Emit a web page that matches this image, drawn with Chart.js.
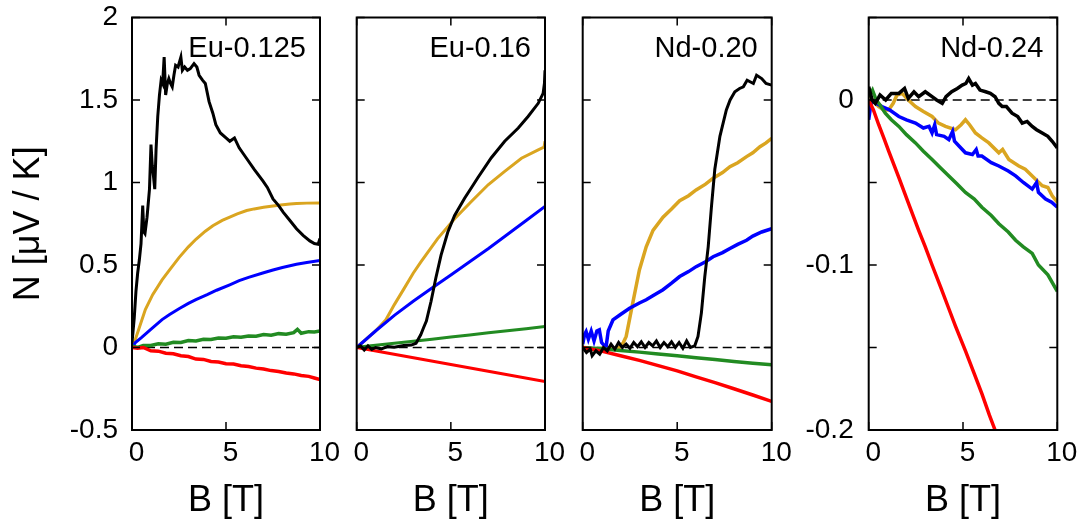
<!DOCTYPE html>
<html><head><meta charset="utf-8">
<script src="https://cdn.jsdelivr.net/npm/chart.js@4.4.1/dist/chart.umd.min.js"></script>
<style>
html,body{margin:0;padding:0;background:#fff;width:1082px;height:531px;overflow:hidden;position:relative}
canvas{position:absolute;top:0}
</style></head><body>
<canvas id="c1" width="345" height="531" style="left:0px"></canvas>
<canvas id="c2" width="225" height="531" style="left:345px"></canvas>
<canvas id="c3" width="225" height="531" style="left:570px"></canvas>
<canvas id="c4" width="287" height="531" style="left:795px"></canvas>
<script>
// ---------- data (B [T], N [µV/K]) ----------
const panelLabels = ['Eu-0.125', 'Eu-0.16', 'Nd-0.20', 'Nd-0.24'];
const xTitle = 'B [T]';
const yTitle = 'N [μV / K]';
const xTicks = [0, 5, 10];
const xTickLabels = ['0', '5', '10'];
const yTicksEu = [-0.5, 0, 0.5, 1, 1.5, 2];
const yTickLabelsEu = ['-0.5', '0', '0.5', '1', '1.5', '2'];
const yTicksNd24 = [-0.2, -0.15, -0.1, -0.05, 0, 0.05];
const yTickLabelsNd24 = ['-0.2', '', '-0.1', '', '0', ''];
const zeroLine = [[0, 0], [10, 0]];

// Eu-0.125
const eu125Black = [[0,0.03],[0.12,0.18],[0.21,0.34],[0.3,0.45],[0.39,0.53],[0.48,0.63],[0.57,0.86],[0.63,0.7],[0.69,0.69],[0.8,0.79],[0.93,0.96],[1.01,1.23],[1.08,1.1],[1.14,1.04],[1.21,0.96],[1.28,1.2],[1.37,1.4],[1.46,1.53],[1.55,1.62],[1.63,1.6],[1.71,1.76],[1.79,1.53],[1.88,1.6],[1.96,1.63],[2.05,1.6],[2.14,1.58],[2.23,1.65],[2.32,1.71],[2.45,1.7],[2.6,1.76],[2.68,1.68],[2.8,1.7],[2.95,1.68],[3.1,1.69],[3.3,1.72],[3.45,1.7],[3.57,1.65],[3.75,1.62],[3.9,1.6],[4.1,1.49],[4.3,1.42],[4.46,1.35],[4.7,1.3],[5.0,1.27],[5.2,1.25],[5.45,1.27],[5.7,1.21],[6.07,1.15],[6.5,1.08],[6.96,1.01],[7.2,0.97],[7.5,0.9],[7.8,0.86],[8.04,0.82],[8.4,0.77],[8.75,0.72],[9.1,0.68],[9.46,0.646],[9.7,0.63],[9.9,0.626],[10,0.66]];
const eu125Gold = [[0,0],[0.18,0.05],[0.36,0.11],[0.71,0.23],[1.1,0.32],[1.6,0.41],[2.0,0.47],[2.5,0.545],[3.0,0.61],[3.4,0.656],[3.9,0.705],[4.3,0.738],[4.8,0.77],[5.2,0.79],[5.6,0.81],[6.1,0.83],[6.5,0.84],[7.0,0.85],[7.5,0.858],[7.9,0.864],[8.4,0.869],[8.75,0.872],[9.3,0.875],[10,0.876]];
const eu125Blue = [[0,0],[0.18,0.03],[0.5,0.06],[1.0,0.11],[1.6,0.169],[2.0,0.2],[2.5,0.235],[3.0,0.267],[3.4,0.29],[4.0,0.32],[4.5,0.347],[5.2,0.38],[5.7,0.405],[6.2,0.425],[7.0,0.453],[7.5,0.47],[8.0,0.485],[8.75,0.504],[9.3,0.515],[10,0.528]];
const eu125Green = [[0,0.01],[0.3,0.0],[0.6,0.012],[1.0,0.012],[1.4,0.022],[1.8,0.02],[2.2,0.032],[2.6,0.03],[3.0,0.042],[3.4,0.04],[3.8,0.05],[4.2,0.048],[4.6,0.058],[5.0,0.056],[5.4,0.065],[5.8,0.062],[6.2,0.07],[6.6,0.068],[7.0,0.078],[7.4,0.074],[7.8,0.084],[8.2,0.08],[8.6,0.09],[8.8,0.11],[9.0,0.086],[9.4,0.096],[9.7,0.094],[10,0.1]];
const eu125Red = [[0,0],[0.3,-0.005],[0.6,0.0],[1.0,-0.02],[1.4,-0.022],[1.8,-0.035],[2.2,-0.038],[2.6,-0.05],[3.0,-0.055],[3.4,-0.07],[3.8,-0.072],[4.2,-0.085],[4.6,-0.088],[5.0,-0.098],[5.4,-0.1],[5.8,-0.11],[6.2,-0.115],[6.6,-0.125],[7.0,-0.13],[7.4,-0.14],[7.8,-0.145],[8.2,-0.155],[8.6,-0.16],[9.0,-0.17],[9.4,-0.175],[9.7,-0.185],[10,-0.195]];

// Eu-0.16
const eu16Black = [[0,0],[0.2,0.01],[0.4,-0.015],[0.6,0.01],[0.8,-0.012],[1.0,0.0],[1.3,-0.008],[1.64,0.006],[2.0,0.002],[2.5,0.012],[2.9,0.015],[3.15,0.026],[3.4,0.077],[3.55,0.12],[3.7,0.16],[3.95,0.28],[4.2,0.42],[4.48,0.56],[4.84,0.7],[5.2,0.8],[5.73,0.905],[6.1,0.97],[6.44,1.03],[7.15,1.15],[7.86,1.25],[8.58,1.33],[9.1,1.4],[9.64,1.48],[9.9,1.54],[9.97,1.6],[10,1.68]];
const eu16Gold = [[0,0],[0.5,0.05],[1.0,0.1],[1.55,0.168],[2.0,0.26],[2.53,0.36],[3.0,0.45],[3.42,0.52],[4.3,0.66],[5.2,0.78],[6.09,0.885],[6.98,0.986],[7.86,1.067],[8.75,1.147],[9.64,1.198],[9.95,1.215],[10,1.25]];
const eu16Blue = [[0,0],[1,0.1],[2,0.195],[3,0.28],[4,0.36],[5,0.44],[6,0.52],[7,0.6],[8,0.685],[9,0.77],[10,0.855]];
const eu16Green = [[0,0],[0.5,0.008],[1,0.014],[2,0.026],[3,0.038],[4,0.05],[5,0.063],[6,0.076],[7,0.089],[8,0.101],[9,0.114],[10,0.127]];
const eu16Red = [[0,0],[2.5,-0.052],[5,-0.103],[7.5,-0.155],[10,-0.206]];

// Nd-0.20
const nd20Black = [[0,0.0],[0.2,-0.03],[0.4,-0.01],[0.5,-0.05],[0.7,-0.02],[0.9,-0.04],[1.1,0.0],[1.3,-0.02],[1.5,0.02],[1.7,-0.01],[1.9,0.03],[2.1,0.0],[2.3,0.02],[2.5,-0.005],[2.7,0.03],[2.9,0.005],[3.1,0.035],[3.3,0.0],[3.5,0.03],[3.7,0.01],[3.9,0.04],[4.1,0.0],[4.3,0.03],[4.5,0.005],[4.7,0.035],[4.9,0.0],[5.1,0.03],[5.3,-0.005],[5.5,0.04],[5.7,0.0],[5.93,0.01],[6.1,0.067],[6.28,0.21],[6.46,0.43],[6.64,0.61],[6.81,0.85],[6.99,1.08],[7.26,1.28],[7.6,1.44],[7.8,1.5],[8.05,1.55],[8.3,1.57],[8.5,1.58],[8.7,1.62],[9.03,1.6],[9.2,1.65],[9.47,1.63],[9.7,1.6],[10,1.59]];
const nd20Gold = [[0,0],[0.4,-0.01],[0.7,-0.014],[1.2,0.0],[1.6,-0.01],[1.95,0.0],[2.15,0.03],[2.3,0.067],[2.65,0.27],[3.0,0.47],[3.36,0.61],[3.72,0.71],[4.25,0.79],[4.7,0.84],[5.13,0.89],[5.6,0.92],[6.0,0.955],[6.5,0.99],[6.9,1.026],[7.4,1.06],[7.79,1.096],[8.2,1.12],[8.67,1.157],[9.0,1.18],[9.38,1.217],[9.7,1.24],[10,1.268]];
const nd20Blue = [[0,0.02],[0.1,0.08],[0.18,0.097],[0.3,0.05],[0.45,0.1],[0.6,0.04],[0.75,0.1],[0.88,0.107],[1.0,0.03],[1.15,0.01],[1.24,0.006],[1.35,0.1],[1.6,0.167],[2.0,0.2],[2.48,0.238],[3.0,0.27],[3.36,0.289],[3.8,0.32],[4.25,0.35],[4.7,0.39],[5.13,0.43],[5.6,0.46],[6.0,0.49],[6.5,0.52],[6.9,0.55],[7.4,0.575],[7.79,0.6],[8.2,0.625],[8.67,0.65],[9.0,0.675],[9.47,0.7],[10,0.72]];
const nd20Green = [[0,0],[1,-0.008],[2,-0.018],[3,-0.028],[4,-0.04],[5,-0.05],[6,-0.062],[7,-0.073],[8,-0.085],[9,-0.095],[10,-0.105]];
const nd20Red = [[0,0],[1,-0.022],[2,-0.05],[3,-0.078],[4,-0.11],[5,-0.142],[6,-0.178],[7,-0.213],[8,-0.25],[9,-0.288],[10,-0.327]];

// Nd-0.24
const nd24Black = [[0,0.008],[0.18,0.0],[0.35,-0.002],[0.6,0.003],[0.9,0.0],[1.2,0.004],[1.6,0.004],[1.9,0.007],[2.1,0.001],[2.4,0.005],[2.65,0.002],[3.0,0.005],[3.36,0.002],[3.6,0.0],[3.9,-0.002],[4.1,0.002],[4.4,0.005],[4.7,0.007],[4.96,0.009],[5.15,0.01],[5.3,0.013],[5.5,0.009],[5.66,0.01],[5.9,0.006],[6.2,0.005],[6.45,0.004],[6.7,0.002],[6.9,-0.002],[7.08,-0.004],[7.3,-0.004],[7.6,-0.008],[7.9,-0.01],[8.14,-0.014],[8.4,-0.013],[8.67,-0.016],[8.9,-0.018],[9.2,-0.02],[9.5,-0.022],[9.73,-0.025],[10,-0.029]];
const nd24Gold = [[0,0.004],[0.25,-0.001],[0.53,-0.004],[0.8,-0.006],[1.06,-0.006],[1.3,-0.002],[1.5,0.003],[1.77,0.004],[2.1,0.0],[2.48,-0.004],[2.9,-0.007],[3.36,-0.01],[3.7,-0.014],[4.07,-0.016],[4.6,-0.018],[4.9,-0.015],[5.13,-0.012],[5.35,-0.015],[5.66,-0.02],[6.0,-0.023],[6.37,-0.026],[6.9,-0.032],[7.1,-0.03],[7.43,-0.036],[7.96,-0.04],[8.3,-0.042],[8.67,-0.046],[9.2,-0.052],[9.5,-0.053],[9.73,-0.058],[10,-0.062]];
const nd24Blue = [[0,-0.012],[0.1,-0.004],[0.18,0.0],[0.4,-0.002],[0.7,-0.004],[1.1,-0.006],[1.6,-0.01],[2.0,-0.012],[2.48,-0.014],[2.9,-0.017],[3.2,-0.016],[3.36,-0.02],[3.5,-0.015],[3.6,-0.021],[4.0,-0.022],[4.25,-0.024],[4.45,-0.019],[4.55,-0.025],[4.8,-0.028],[5.13,-0.032],[5.5,-0.033],[5.7,-0.03],[5.8,-0.034],[6.0,-0.034],[6.5,-0.038],[6.9,-0.04],[7.4,-0.043],[7.79,-0.046],[8.2,-0.05],[8.67,-0.054],[8.9,-0.05],[9.0,-0.056],[9.38,-0.06],[9.7,-0.062],[10,-0.065]];
const nd24Green = [[0,0.002],[0.2,0.006],[0.4,0.0],[0.6,-0.003],[0.88,-0.008],[1.2,-0.012],[1.6,-0.016],[2.0,-0.021],[2.48,-0.026],[2.9,-0.031],[3.36,-0.036],[3.8,-0.041],[4.25,-0.046],[4.7,-0.051],[5.13,-0.056],[5.6,-0.06],[6.0,-0.065],[6.5,-0.07],[6.9,-0.075],[7.4,-0.08],[7.79,-0.085],[8.2,-0.089],[8.67,-0.093],[9.0,-0.1],[9.5,-0.106],[10,-0.116]];
const nd24Red = [[0,0],[0.25,-0.006],[0.53,-0.015],[0.8,-0.023],[1.06,-0.031],[1.6,-0.047],[2.12,-0.063],[2.65,-0.079],[3.0,-0.089],[3.36,-0.1],[3.8,-0.113],[4.2,-0.125],[4.6,-0.137],[5.13,-0.152],[5.6,-0.166],[6.0,-0.178],[6.4,-0.191],[6.7,-0.2],[6.8,-0.203]];

// ---------- styling ----------
const COLORS = {black: '#000000', gold: '#DAA520', blue: '#0000FF', green: '#228B22', red: '#FF0000'};
const FONT = "'Liberation Sans', Arial, Helvetica, sans-serif";
Chart.defaults.font.family = FONT;
Chart.defaults.color = '#000';

function line(pairs, color, width) {
  return {data: pairs.map(p => ({x: p[0], y: p[1]})), borderColor: color, backgroundColor: color,
          borderWidth: width, pointRadius: 0, pointHoverRadius: 0, fill: false, tension: 0};
}
function dashed(pairs) {
  const d = line(pairs, '#000', 1.5); d.borderDash = [9, 5]; return d;
}

const frameTicks = {
  id: 'frameTicks',
  afterDraw(chart, args, opts) {
    const {ctx, chartArea: a, scales: {x, y}} = chart;
    ctx.save();
    ctx.strokeStyle = '#000';
    ctx.lineWidth = 1.5;
    const L = 8;
    ctx.beginPath();
    x.ticks.forEach(t => {
      const px = x.getPixelForValue(t.value);
      ctx.moveTo(px, a.bottom); ctx.lineTo(px, a.bottom - L);
      ctx.moveTo(px, a.top); ctx.lineTo(px, a.top + L);
    });
    y.ticks.forEach(t => {
      const py = y.getPixelForValue(t.value);
      ctx.moveTo(a.left, py); ctx.lineTo(a.left + L, py);
      ctx.moveTo(a.right, py); ctx.lineTo(a.right - L, py);
    });
    ctx.stroke();
    ctx.lineWidth = 2;
    ctx.strokeRect(a.left, a.top, a.right - a.left, a.bottom - a.top);
    ctx.font = '29px ' + FONT;
    ctx.textAlign = 'right';
    ctx.textBaseline = 'alphabetic';
    ctx.fillStyle = '#000';
    ctx.fillText(opts.label, a.right - 14, a.top + 39);
    ctx.restore();
  }
};

// widths order: black, gold, blue, green, red
function makePanel(id, label, series, widths, yMin, yMax, yTicks, yLabels, geom) {
  const showY = !!yLabels;
  return new Chart(document.getElementById(id), {
    type: 'line',
    data: {datasets: [
      line(series[0], COLORS.black, widths[0]),
      line(series[4], COLORS.red, widths[4]),
      line(series[3], COLORS.green, widths[3]),
      line(series[2], COLORS.blue, widths[2]),
      line(series[1], COLORS.gold, widths[1]),
      dashed(zeroLine)
    ]},
    options: {
      responsive: false, animation: false, devicePixelRatio: 1,
      layout: {padding: {left: 0, top: 17.5, right: geom.rp, bottom: 0}},
      plugins: {legend: {display: false}, tooltip: {enabled: false}, frameTicks: {label: label}},
      events: [],
      scales: {
        x: {
          type: 'linear', min: 0, max: 10,
          grid: {display: false, drawTicks: false}, border: {display: false},
          afterBuildTicks: s => { s.ticks = xTicks.map(v => ({value: v})); },
          afterFit: s => { s.height = 101; s.paddingLeft = 0; s.paddingRight = 0; },
          ticks: {font: {size: 28}, padding: 6, labelOffset: 4.5, maxRotation: 0, autoSkip: false,
                  callback: (v, i) => xTickLabels[i]},
          title: {display: true, text: xTitle, font: {size: 36}, padding: {top: 0, bottom: 8}}
        },
        y: {
          type: 'linear', min: yMin, max: yMax,
          grid: {display: false, drawTicks: false}, border: {display: false},
          afterBuildTicks: s => { s.ticks = yTicks.map(v => ({value: v})); },
          afterFit: s => { s.width = geom.yw; s.paddingTop = 0; s.paddingBottom = 0; },
          ticks: {display: showY, font: {size: 28}, padding: geom.tp || 14, autoSkip: false,
                  callback: (v, i) => showY ? yLabels[i] : ''},
          title: {display: !!geom.ytitle, text: yTitle, font: {size: 36}, padding: {top: 7, bottom: 0}}
        }
      }
    },
    plugins: [frameTicks]
  });
}

makePanel('c1', panelLabels[0], [eu125Black, eu125Gold, eu125Blue, eu125Green, eu125Red], [3, 3, 3, 3.5, 3.5],
  -0.5, 2, yTicksEu, yTickLabelsEu, {yw: 132, rp: 25, tp: 14, ytitle: true});
makePanel('c2', panelLabels[1], [eu16Black, eu16Gold, eu16Blue, eu16Green, eu16Red], [3, 3, 3, 3, 3],
  -0.5, 2, yTicksEu, null, {yw: 11.7, rp: 25});
makePanel('c3', panelLabels[2], [nd20Black, nd20Gold, nd20Blue, nd20Green, nd20Red], [3, 3.5, 3.5, 3.5, 3.5],
  -0.5, 2, yTicksEu, null, {yw: 12.7, rp: 23.3});
makePanel('c4', panelLabels[3], [nd24Black, nd24Gold, nd24Blue, nd24Green, nd24Red], [3.5, 3.5, 3.5, 3.5, 3.5],
  -0.2, 0.05, yTicksNd24, yTickLabelsNd24, {yw: 73.7, rp: 24.7, tp: 15});
</script>
</body></html>
